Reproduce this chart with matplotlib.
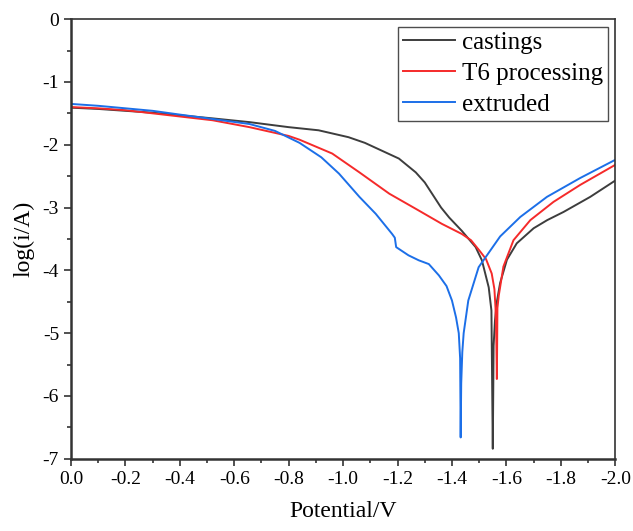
import matplotlib
matplotlib.use("Agg")
import matplotlib.pyplot as plt
from matplotlib.ticker import MultipleLocator, FormatStrFormatter

# Potentiodynamic polarization curves: potential (V) vs log current density
cast_v = [0.0, -0.1, -0.2, -0.3, -0.4, -0.52, -0.656, -0.8, -0.91, -1.02, -1.08,
          -1.14, -1.205, -1.267, -1.30, -1.33, -1.36, -1.39, -1.436, -1.487, -1.51,
          -1.535, -1.545, -1.550, -1.553, -1.558, -1.565, -1.577, -1.602, -1.638,
          -1.70, -1.75, -1.81, -1.908, -2.0]
cast_i = [-1.41, -1.43, -1.46, -1.49, -1.53, -1.58, -1.64, -1.72, -1.77, -1.88, -1.97,
          -2.09, -2.22, -2.44, -2.60, -2.80, -3.00, -3.16, -3.37, -3.63, -3.84,
          -4.27, -4.64, -6.84, -5.20, -4.80, -4.50, -4.20, -3.83, -3.57,
          -3.33, -3.20, -3.07, -2.83, -2.57]

t6_v = [0.0, -0.1, -0.2, -0.3, -0.4, -0.52, -0.656, -0.8, -0.84, -0.96, -1.06,
        -1.17, -1.267, -1.363, -1.436, -1.47, -1.50, -1.525, -1.546, -1.556, -1.56,
        -1.563, -1.565, -1.567, -1.572, -1.589, -1.626, -1.688, -1.773, -1.871, -2.0]
t6_i = [-1.40, -1.42, -1.45, -1.50, -1.55, -1.61, -1.72, -1.86, -1.92, -2.14, -2.44,
        -2.78, -3.02, -3.26, -3.42, -3.52, -3.68, -3.82, -4.05, -4.30, -4.60,
        -5.10, -5.73, -4.60, -4.40, -3.94, -3.52, -3.20, -2.91, -2.64, -2.32]

ext_v = [0.0, -0.1, -0.2, -0.3, -0.4, -0.52, -0.656, -0.75, -0.84, -0.92, -0.985,
         -1.06, -1.12, -1.18, -1.19, -1.195, -1.24, -1.278, -1.315, -1.352, -1.38,
         -1.40, -1.415, -1.425, -1.430, -1.432, -1.434, -1.438, -1.443, -1.46,
         -1.498, -1.577, -1.651, -1.749, -1.871, -2.0]
ext_i = [-1.35, -1.38, -1.42, -1.46, -1.52, -1.59, -1.67, -1.78, -1.97, -2.20, -2.46,
         -2.83, -3.10, -3.42, -3.48, -3.63, -3.76, -3.84, -3.90, -4.08, -4.25,
         -4.48, -4.75, -5.00, -5.40, -6.66, -5.80, -5.30, -5.00, -4.48,
         -3.95, -3.46, -3.15, -2.83, -2.53, -2.24]

labels = ["castings", "T6 processing", "extruded"]
colors = ["#3d3d3d", "#f52a2a", "#1c6fe8"]

plt.rcParams["font.family"] = ["Liberation Serif", "DejaVu Serif"]
plt.rcParams["axes.unicode_minus"] = False

fig = plt.figure(figsize=(6.33, 5.31), dpi=100)
ax = fig.add_axes([0.112, 0.136, 0.860, 0.828])

for v, i, lab, c in zip([cast_v, t6_v, ext_v], [cast_i, t6_i, ext_i], labels, colors):
    ax.plot(v, i, color=c, lw=1.4, label=lab)

ax.set_xlim(0, -2.0)
ax.set_ylim(-7, 0)
ax.xaxis.set_major_locator(MultipleLocator(0.2))
ax.xaxis.set_minor_locator(MultipleLocator(0.1))
ax.xaxis.set_major_formatter(FormatStrFormatter("%.1f"))
ax.yaxis.set_major_locator(MultipleLocator(1))
ax.yaxis.set_minor_locator(MultipleLocator(0.5))

ax.tick_params(which="major", direction="out", length=5, width=1.2, labelsize=14,
               colors="#333333", labelcolor="black", top=False, right=False)
ax.tick_params(which="minor", direction="out", length=3, width=1.2, colors="#333333",
               top=False, right=False)
for s in ax.spines.values():
    s.set_color("#333333")
    s.set_linewidth(1.2)
ax.spines["left"].set_linewidth(1.8)
ax.spines["bottom"].set_linewidth(1.8)

ax.set_xlabel("Potential/V", fontsize=17, labelpad=10)
ax.set_ylabel("log(i/A)", fontsize=17, labelpad=6)

leg = ax.legend(loc="upper right", fontsize=18, frameon=True, fancybox=False,
                edgecolor="#222222", handlelength=2.1, handletextpad=0.25,
                labelspacing=0.33, borderpad=0.2, borderaxespad=0.3)
leg.get_frame().set_linewidth(1.0)

fig.savefig("out.png", dpi=100)
